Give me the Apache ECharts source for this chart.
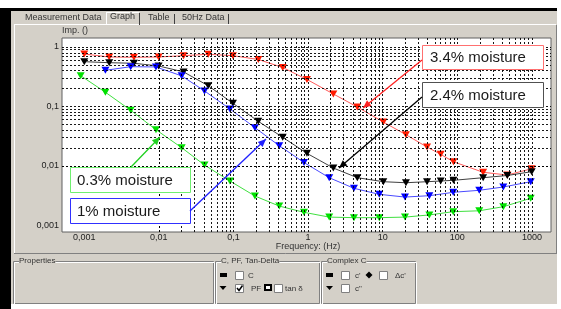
<!DOCTYPE html>
<html><head><meta charset="utf-8">
<script src="https://cdn.jsdelivr.net/npm/echarts@6/dist/echarts.min.js"></script>
<style>html,body{margin:0;padding:0;background:#fff}#c{width:561px;height:309px}</style>
</head><body><div id="c"></div>
<script>
// ---- data (power factor vs frequency) ----
const freqRB = [0.001,0.00216,0.00463,0.00993,0.0214,0.0459,0.0984,0.215,0.457,0.966,2.18,4.57,10.2,20.5,39.3,59.9,88.9,222,468,993];
const freqBG = [0.000895,0.00192,0.00419,0.00914,0.0202,0.0409,0.0897,0.194,0.411,0.881,1.92,4.12,9.0,19.9,42.2,88.3,197,414,964];
const pf34 = [0.762,0.679,0.671,0.679,0.714,0.754,0.714,0.616,0.452,0.284,0.162,0.0977,0.0546,0.0334,0.0207,0.0156,0.0117,0.00778,0.0070,0.00893];
const pf24 = [0.566,0.544,0.532,0.479,0.381,0.223,0.1127,0.0561,0.0302,0.0162,0.00918,0.00631,0.00540,0.00519,0.00540,0.00555,0.00570,0.00631,0.00687,0.00796];
const pf10 = [null,0.405,0.466,0.461,0.327,0.182,0.0904,0.0438,0.0218,0.01137,0.00631,0.00418,0.00331,0.00298,0.00314,0.00358,0.00387,0.00440,0.00540];
const pf03 = [0.329,0.173,0.0860,0.0405,0.0202,0.0103,0.00555,0.00310,0.00210,0.00165,0.00137,0.00134,0.00134,0.00137,0.00149,0.00169,0.00175,0.00205,0.00284];
const xTicks = [0.001,0.01,0.1,1,10,100,1000];
const xTickLabels = ['0,001','0,01','0,1','1','10','100','1000'];
const yTicks = [0.001,0.01,0.1,1];
const yTickLabels = ['0,001','0,01','0,1','1'];
const xGrid = [5e-4,6e-4,7e-4,8e-4,9e-4];
const yGrid = [8e-4,9e-4];
for (let e=-3;e<=2;e++) for (let m=1;m<=9;m++) xGrid.push(+(m*Math.pow(10,e)).toPrecision(3));
xGrid.push(1000);
for (let e=-3;e<=-1;e++) for (let m=1;m<=9;m++) yGrid.push(+(m*Math.pow(10,e)).toPrecision(3));
yGrid.push(1);

function pairs(xs, ys){ const o=[]; xs.forEach((x,i)=>{ if(ys[i]!=null) o.push([x,ys[i]]); }); return o; }
function labelFor(ticks, labels){
  return function(v){
    for (let i=0;i<ticks.length;i++) if (Math.abs(Math.log10(v)-Math.log10(ticks[i]))<1e-6) return labels[i];
    return '';
  };
}
const FONT = 'Liberation Sans, Arial, sans-serif';
const gridLine = {color:'#000', type:[2,2], width:1, opacity:0.9};

function mkSeries(name, data, lineColor, markColor){
  return {name, type:'line', data, z:3, symbol:'triangle', symbolRotate:180, symbolSize:[8,7],
    lineStyle:{color:lineColor, width:1}, itemStyle:{color:markColor}, animation:false};
}

// ---- chrome graphics ----
const G = [];
function rect(x,y,w,h,fill,stroke,z){ G.push({type:'rect', shape:{x,y,width:w,height:h}, style:{fill:fill||'none', stroke:stroke||null, lineWidth:1}, z:z||0, silent:true}); }
function line(x1,y1,x2,y2,c,w,z){ G.push({type:'line', shape:{x1,y1,x2,y2}, style:{stroke:c, lineWidth:w||1}, z:z||0, silent:true}); }
function text(t,x,y,size,color,align,z,bg){ G.push({type:'text', x, y, style:{text:t, font:size+'px '+FONT, fill:color||'#222', align:align||'left', verticalAlign:'middle', backgroundColor:bg||null}, z:z||5, silent:true}); }
function etched(x,y,w,h){ rect(x+0.5,y+0.5,w,h,null,'#808080'); rect(x+1.5,y+1.5,w,h,null,'#ffffff'); }
function checkbox(x,y,checked){ rect(x+0.5,y+0.5,8,8,'#fff','#808080',3); if(checked) G.push({type:'polyline', shape:{points:[[x+2,y+4],[x+4,y+6.5],[x+7.5,y+1.5]]}, style:{stroke:'#000', lineWidth:1.5, fill:null}, z:4, silent:true}); }
function arrow(x1,y1,x2,y2,c){
  line(x1,y1,x2,y2,c,1.3,10);
  const a=Math.atan2(y2-y1,x2-x1), L=8, W=3.5;
  const bx=x2-L*Math.cos(a), by=y2-L*Math.sin(a);
  G.push({type:'polygon', shape:{points:[[x2,y2],[bx+W*Math.sin(a),by-W*Math.cos(a)],[bx-W*Math.sin(a),by+W*Math.cos(a)]]}, style:{fill:c}, z:10, silent:true});
}
function note(x,y,w,h,stroke,t,tx){ rect(x+0.5,y+0.5,w,h,'#fff',stroke,10); text(t,tx,y+h/2+1,15,'#1a1a1a','left',11); }

// outer frame
rect(0,0,561,8,'#fff',null,1);
rect(0,8,561,3,'#000',null,1);
rect(0,8,11,301,'#000',null,1);
rect(557,8,4,301,'#fff',null,1);
rect(11,304,546,5,'#fff',null,1);
// tabs
line(14,24.5,556,24.5,'#fff',1,2);
line(106.5,13,106.5,24,'#fff',1,2); line(106,12.5,139,12.5,'#fff',1,2);
line(139.5,13,139.5,25,'#404040',1,2);
line(174.5,14,174.5,24,'#404040',1,2);
line(228.5,14,228.5,24,'#404040',1,2);
text('Measurement Data',25,18,9,'#333');
text('Graph',110,17,9,'#333');
text('Table',148,18,9,'#333');
text('50Hz Data',182,18,9,'#333');
// graph panel border
line(14.5,25,14.5,253,'#fff',1,2);
line(556.5,25,556.5,253,'#808080',1,2);
line(14,253.5,557,253.5,'#808080',1,2);
text('Imp. ()',62,31,9,'#333');
text('Frequency: (Hz)',308,247,9,'#333','center');
// group boxes
const PS = 8;
etched(13,261,200,42); text('Properties',19,261,PS,'#333','left',6,'#d4d0c8');
etched(215,261,104,42); text('C, PF, Tan-Delta',221,261,PS,'#333','left',6,'#d4d0c8');
etched(321,261,94,42); text('Complex C',327,261,PS,'#333','left',6,'#d4d0c8');
rect(220,273,7,4,'#000'); checkbox(235,271,false); text('C',248,275.5,PS,'#333');
G.push({type:'polygon', shape:{points:[[219.5,286],[226.5,286],[223,290]]}, style:{fill:'#000'}, silent:true, z:3});
checkbox(235,284,true); text('PF',251,288.5,PS,'#333');
G.push({type:'rect', shape:{x:265,y:285,width:6,height:5}, style:{fill:'#fff',stroke:'#000',lineWidth:2}, z:3, silent:true});
checkbox(274,284,false); text('tan δ',285,288.5,PS,'#333');
rect(326,273,7,4,'#000'); checkbox(341,271,false); text("c'",355,275.5,PS,'#333');
G.push({type:'polygon', shape:{points:[[369,271.5],[372.5,275],[369,278.5],[365.5,275]]}, style:{fill:'#000'}, silent:true, z:3});
checkbox(379,271,false); text("Δc'",395,275.5,PS,'#333');
G.push({type:'polygon', shape:{points:[[326,286],[333,286],[329.5,290]]}, style:{fill:'#000'}, silent:true, z:3});
checkbox(341,284,false); text('c"',355,288.5,PS,'#333');
// annotations
note(422,45,121,24,'#ff7070','3.4% moisture',430);
arrow(422,60,363,108,'#ff2020');
note(422,82,121,25,'#505050','2.4% moisture',430);
arrow(422,97,339,168,'#000');
note(70,167,120,25,'#70f070','0.3% moisture',77);
arrow(131,167,160,137,'#20d020');
note(70,198,120,25,'#3030ff','1% moisture',77);
arrow(190,211,266,139,'#2020ff');

const option = {
  animation:false,
  backgroundColor:'#d4d0c8',
  grid:{left:62, top:38, right:10, bottom:77, show:true, backgroundColor:'#fff', borderColor:'#606060', borderWidth:1},
  xAxis:{type:'log', logBase:10, min:0.000503, max:1803, splitNumber:6,
    axisLine:{show:false}, axisTick:{show:false}, splitLine:{show:false}, minorTick:{show:false},
    axisLabel:{formatter:labelFor(xTicks,xTickLabels), fontSize:9, fontFamily:FONT, color:'#222', margin:1, showMinLabel:false, showMaxLabel:false, hideOverlap:false}},
  yAxis:{type:'log', logBase:10, min:0.000769, max:1.417, splitNumber:4,
    axisLine:{show:false}, axisTick:{show:false}, splitLine:{show:false},
    axisLabel:{formatter:labelFor(yTicks,yTickLabels), fontSize:9, fontFamily:FONT, color:'#222', margin:3, showMinLabel:false, showMaxLabel:false}},
  series:[
    {type:'line', data:[[1,1]], symbol:'none', showSymbol:false, lineStyle:{opacity:0}, z:1, silent:true,
     markLine:{silent:true, symbol:['none','none'], label:{show:false}, lineStyle:gridLine, animation:false,
       data: xGrid.map(v=>({xAxis:v})).concat(yGrid.map(v=>({yAxis:v})))}},
    mkSeries('3.4%', pairs(freqRB,pf34), '#ff5a5a', '#ff1a00'),
    mkSeries('2.4%', pairs(freqRB,pf24), '#404040', '#000000'),
    mkSeries('1%', pairs(freqBG,pf10), '#4a4aff', '#0000ff'),
    mkSeries('0.3%', pairs(freqBG,pf03), '#40e040', '#00e000')
  ],
  graphic:G
};
const chart = echarts.init(document.getElementById('c'), null, {renderer:'canvas'});
chart.setOption(option);
</script></body></html>
